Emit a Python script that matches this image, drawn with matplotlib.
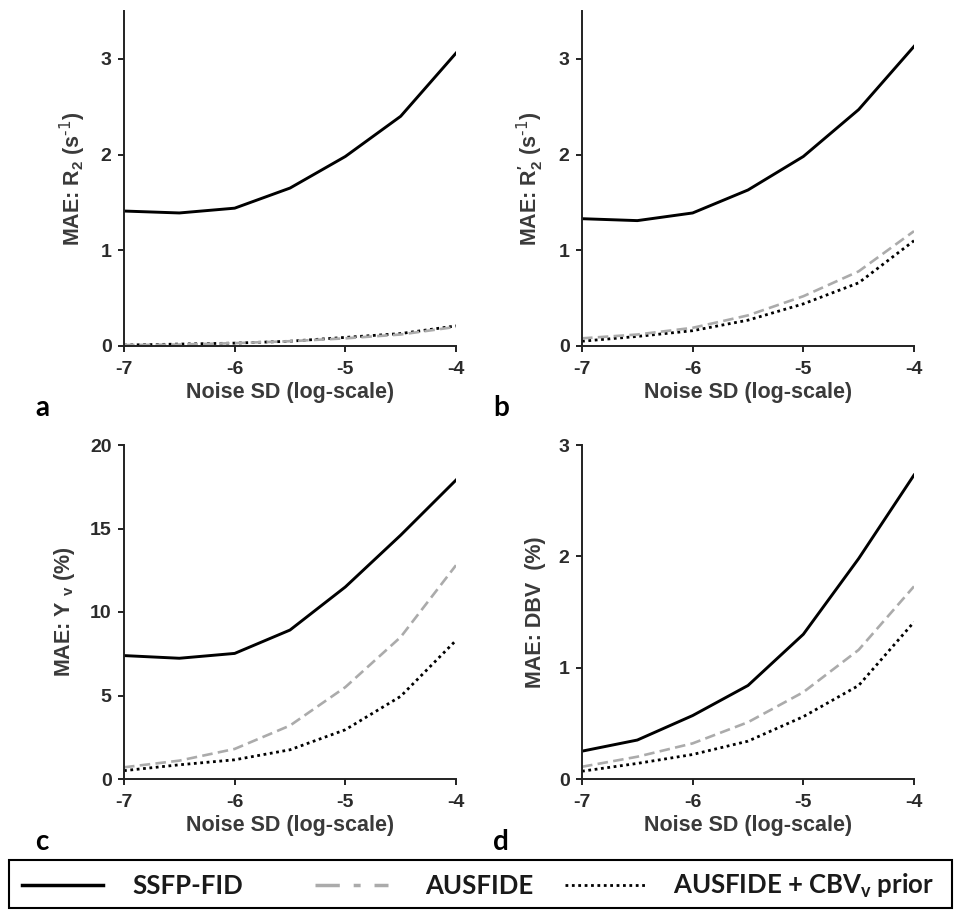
import numpy as np
import matplotlib
matplotlib.use("Agg")
import matplotlib.pyplot as plt
from matplotlib.patches import Rectangle

plt.rcParams['font.family'] = ['Liberation Sans', 'DejaVu Sans']
plt.rcParams['mathtext.default'] = 'regular'

# noise SD (log10) sample points
noise = [-7, -6.5, -6, -5.5, -5, -4.5, -4]

# a: R2
r2_ssfp = [1.41, 1.39, 1.44, 1.65, 1.98, 2.40, 3.06]
r2_aus = [0.01, 0.015, 0.03, 0.05, 0.08, 0.12, 0.20]
r2_prior = [0.01, 0.02, 0.03, 0.05, 0.09, 0.13, 0.21]

# b: R2'
r2p_ssfp = [1.33, 1.31, 1.39, 1.63, 1.98, 2.47, 3.13]
r2p_aus = [0.08, 0.12, 0.19, 0.32, 0.52, 0.78, 1.20]
r2p_prior = [0.05, 0.10, 0.16, 0.27, 0.44, 0.66, 1.10]

# c: Yv
yv_ssfp = [7.39, 7.23, 7.52, 8.92, 11.5, 14.6, 17.9]
yv_aus = [0.7, 1.1, 1.8, 3.2, 5.5, 8.5, 12.8]
yv_prior = [0.5, 0.85, 1.15, 1.75, 2.95, 4.95, 8.3]

# d: DBV
dbv_ssfp = [0.25, 0.35, 0.57, 0.84, 1.30, 1.98, 2.73]
dbv_aus = [0.11, 0.20, 0.32, 0.51, 0.78, 1.16, 1.73]
dbv_prior = [0.07, 0.14, 0.22, 0.34, 0.56, 0.84, 1.41]

panels = [
    ('a', r'MAE: R$_2$ (s$^{\text{-1}}$)', r2_ssfp, r2_aus, r2_prior, 3.5, [0, 1, 2, 3]),
    ('b', r"MAE: R$_2^{\prime}$ (s$^{\text{-1}}$)", r2p_ssfp, r2p_aus, r2p_prior, 3.5, [0, 1, 2, 3]),
    ('c', r'MAE: Y $_{v}$ (%)', yv_ssfp, yv_aus, yv_prior, 20, [0, 5, 10, 15, 20]),
    ('d', 'MAE: DBV  (%)', dbv_ssfp, dbv_aus, dbv_prior, 3, [0, 1, 2, 3]),
]
legend_labels = ['SSFP-FID', 'AUSFIDE', r'AUSFIDE + CBV$_v$ prior']

W, H = 955, 910
fig = plt.figure(figsize=(W / 100, H / 100), dpi=100)

# axes boxes in pixels: left, top, right, bottom
boxes = [(124, 11, 456, 346), (582, 11, 914, 346),
         (124, 445, 456, 779), (582, 445, 914, 779)]

txtcol = '#2b2b2b'
for (letter, ylab, s1, s2, s3, ymax, yt), (l, t, r, b) in zip(panels, boxes):
    ax = fig.add_axes([l / W, 1 - b / H, (r - l) / W, (b - t) / H])
    ax.plot(noise, s3, color='black', lw=2.0, ls=(0, (1, 1.3)))
    ax.plot(noise, s2, color='#ababab', lw=1.9, ls=(0, (4, 2)))
    ax.plot(noise, s1, color='black', lw=2.1)
    ax.set_xlim(-7, -4)
    ax.set_ylim(0, ymax)
    ax.set_xticks([-7, -6, -5, -4])
    ax.set_xticklabels(['-7', '-6', '-5', '-4'])
    ax.set_yticks(yt)
    for sp in ['top', 'right']:
        ax.spines[sp].set_visible(False)
    for sp in ['left', 'bottom']:
        ax.spines[sp].set_linewidth(1.4)
        ax.spines[sp].set_color('#222222')
    ax.tick_params(direction='out', length=4, width=1.4, color='#222222',
                   labelsize=14, labelcolor=txtcol)
    ax.tick_params(axis='x', pad=7)
    ax.tick_params(axis='y', pad=5)
    for lab in ax.get_xticklabels() + ax.get_yticklabels():
        lab.set_fontweight('bold')
    ax.set_xlabel('Noise SD (log-scale)', fontsize=15.5, fontweight='bold',
                  color='#3a3a3a', labelpad=3)
    ax.set_ylabel(ylab, fontsize=15.5, fontweight='bold', color='#3a3a3a',
                  labelpad=9)
    fig.text((l - 89) / W, 1 - 408 / H if t < 100 else 1 - 842 / H, letter,
             fontsize=20, fontweight='bold', family=['Lato', 'DejaVu Sans'],
             ha='left', va='center')

# legend box across the bottom
lax = fig.add_axes([0, 0, 1, 1], facecolor='none')
lax.set_xlim(0, W)
lax.set_ylim(H, 0)
lax.axis('off')
lax.add_patch(Rectangle((9, 860), 943, 48, fill=False, ec='black', lw=1.5))
ly = 885
lax.plot([22, 103], [ly, ly], color='black', lw=2.5)
lax.plot([315, 388], [ly, ly], color='#ababab', lw=2.5, ls=(0, (7, 4, 2, 4)))
lax.plot([565, 648], [ly, ly], color='black', lw=2.0, ls=(0, (1, 1.3)))
for x, lab in zip([132, 425, 673], legend_labels):
    lax.text(x, ly + 1, lab, fontsize=18.5, fontweight='bold',
             family=['Lato', 'DejaVu Sans'], ha='left', va='center', color='#1a1a1a')

fig.savefig('out.png', dpi=100)
